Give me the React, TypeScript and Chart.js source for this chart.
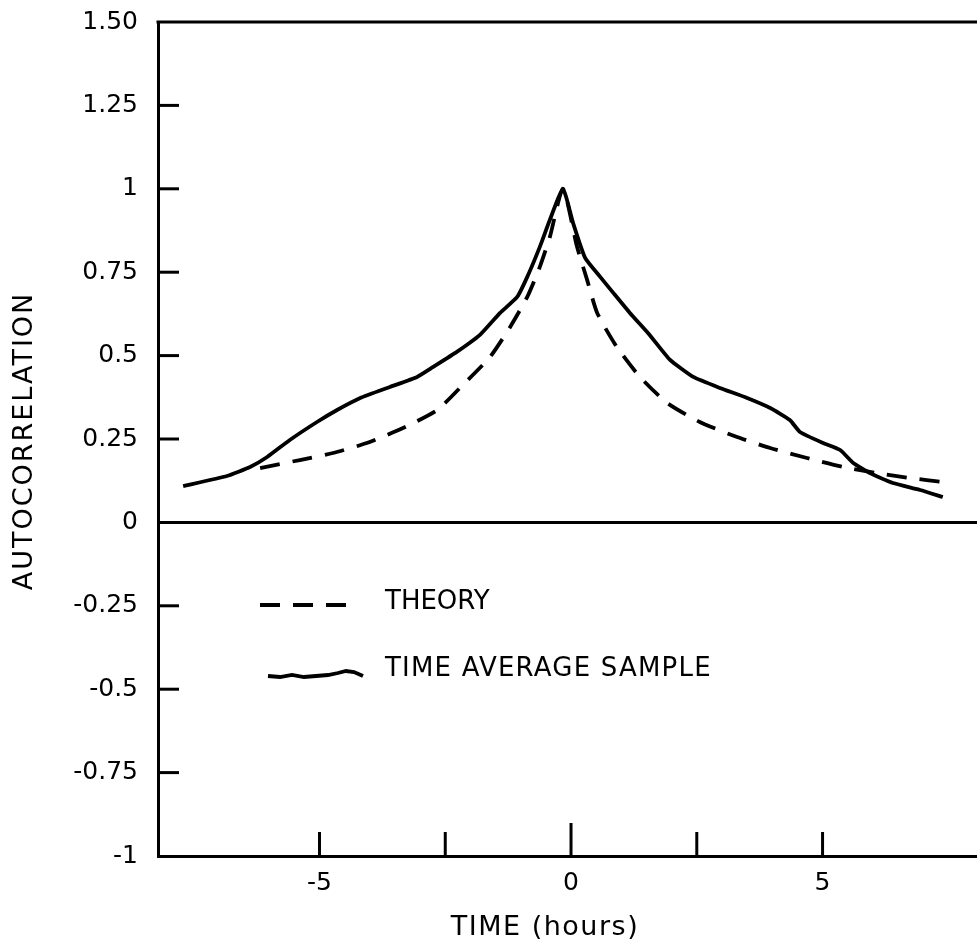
import React, { useEffect, useRef } from "react";
import { Chart, registerables } from "chart.js";

Chart.register(...registerables);

// Time average sample (solid curve)
const sampleTime = [
  -7.71, -6.84, -6.38, -6.04, -5.59, -5.05, -4.65, -4.19, -3.6, -3.06, -2.74, -2.27,
  -1.81, -1.41, -1.07, -0.87, -0.62, -0.42, -0.16, 0.04, 0.28, 0.58, 0.84, 1.17, 1.53,
  1.97, 2.43, 2.96, 3.5, 3.96, 4.35, 4.55, 5.01, 5.35, 5.61, 5.94, 6.4, 6.94, 7.39,
];
const sampleValue = [
  0.109, 0.139, 0.166, 0.196, 0.247, 0.301, 0.337, 0.373, 0.406, 0.436, 0.466, 0.511,
  0.562, 0.628, 0.676, 0.736, 0.826, 0.907, 1.0, 0.898, 0.793, 0.736, 0.688, 0.628, 0.568,
  0.487, 0.436, 0.403, 0.373, 0.343, 0.307, 0.271, 0.238, 0.217, 0.178, 0.148, 0.118, 0.097, 0.076,
];

// Theory (dashed curve)
const theoryTime = [
  -6.18, -5.39, -4.73, -4.06, -3.34, -2.66, -2.15, -1.61, -1.21, -0.87, -0.62, -0.42, -0.16,
  0.12, 0.32, 0.52, 0.91, 1.37, 1.91, 2.56, 3.3, 3.96, 4.69, 5.41, 6.08, 6.74, 7.4,
];
const theoryValue = [
  0.163, 0.187, 0.208, 0.238, 0.283, 0.337, 0.412, 0.496, 0.586, 0.676, 0.766, 0.856, 1.0,
  0.826, 0.727, 0.628, 0.526, 0.436, 0.358, 0.301, 0.256, 0.223, 0.193, 0.166, 0.148, 0.133, 0.121,
];

const yTickValues = [-1, -0.75, -0.5, -0.25, 0, 0.25, 0.5, 0.75, 1, 1.25, 1.5];
const yTickLabels = ["-1", "-0.75", "-0.5", "-0.25", "0", "0.25", "0.5", "0.75", "1", "1.25", "1.50"];
const xTickValues = [-5, -2.5, 0, 2.5, 5];
const xTickLabels = ["-5", "", "0", "", "5"];

const xMin = -8.21;
const xMax = 8.07;
const yMin = -1;
const yMax = 1.5;

const seriesNames = ["THEORY", "TIME AVERAGE SAMPLE"];
const yTitle = "AUTOCORRELATION";
const xTitle = "TIME (hours)";

const FONT = "'DejaVu Sans', sans-serif";

const decorPlugin = {
  id: "decor",
  afterDraw(chart: any) {
    const ctx = chart.ctx as CanvasRenderingContext2D;
    const { left, right, top, bottom } = chart.chartArea;
    const xs = chart.scales.x;
    const ys = chart.scales.y;
    ctx.save();
    ctx.strokeStyle = "#000";
    ctx.fillStyle = "#000";
    ctx.lineCap = "butt";

    // top frame line
    ctx.lineWidth = 3;
    ctx.beginPath();
    ctx.moveTo(left - 1.5, top);
    ctx.lineTo(right, top);
    ctx.stroke();

    // zero line
    const y0 = ys.getPixelForValue(0);
    ctx.beginPath();
    ctx.moveTo(left, y0);
    ctx.lineTo(right, y0);
    ctx.stroke();

    // inner y tick marks
    yTickValues.forEach((v) => {
      if (v === yMin || v === yMax || v === 0) return;
      const py = ys.getPixelForValue(v);
      ctx.beginPath();
      ctx.moveTo(left, py);
      ctx.lineTo(left + 21, py);
      ctx.stroke();
    });

    // inner x tick marks
    xTickValues.forEach((v) => {
      const px = xs.getPixelForValue(v);
      const len = v === 0 ? 33 : 24;
      ctx.beginPath();
      ctx.moveTo(px, bottom);
      ctx.lineTo(px, bottom - len);
      ctx.stroke();
    });

    // x axis title
    ctx.save();
    ctx.font = `27px ${FONT}`;
    ctx.textAlign = "center";
    ctx.textBaseline = "middle";
    try {
      (ctx as any).letterSpacing = "1.5px";
    } catch (e) {}
    ctx.fillText(xTitle, 545, 928);
    ctx.restore();

    // y axis title
    ctx.save();
    ctx.translate(25, 441);
    ctx.rotate(-Math.PI / 2);
    ctx.font = `27px ${FONT}`;
    ctx.textAlign = "center";
    ctx.textBaseline = "middle";
    try {
      (ctx as any).letterSpacing = "2px";
    } catch (e) {}
    ctx.fillText(yTitle, 0, 0);
    ctx.restore();

    // legend
    ctx.lineWidth = 3.8;
    ctx.setLineDash([20, 13]);
    ctx.beginPath();
    ctx.moveTo(260, 605);
    ctx.lineTo(348, 605);
    ctx.stroke();
    ctx.setLineDash([]);
    const wave = [
      [268, 676], [280, 677], [292, 675], [304, 677], [316, 676],
      [328, 675], [338, 673], [346, 671], [354, 672], [363, 676],
    ];
    ctx.beginPath();
    wave.forEach(([wx, wy], i) => (i ? ctx.lineTo(wx, wy) : ctx.moveTo(wx, wy)));
    ctx.stroke();

    ctx.font = `26px ${FONT}`;
    ctx.textAlign = "left";
    ctx.textBaseline = "middle";
    ctx.fillText(seriesNames[0], 385, 602);
    try {
      (ctx as any).letterSpacing = "1.2px";
    } catch (e) {}
    ctx.fillText(seriesNames[1], 385, 669);
    ctx.restore();
  },
};

export default function App() {
  const canvasRef = useRef<HTMLCanvasElement | null>(null);

  useEffect(() => {
    if (!canvasRef.current) return;
    const chart = new Chart(canvasRef.current, {
      type: "line",
      data: {
        datasets: [
          {
            label: seriesNames[0],
            data: theoryTime.map((t, i) => ({ x: t, y: theoryValue[i] })),
            borderColor: "#000",
            borderWidth: 3.8,
            borderDash: [20, 13],
            pointRadius: 0,
            tension: 0.2,
            fill: false,
          },
          {
            label: seriesNames[1],
            data: sampleTime.map((t, i) => ({ x: t, y: sampleValue[i] })),
            borderColor: "#000",
            borderWidth: 3.8,
            pointRadius: 0,
            tension: 0.15,
            fill: false,
          },
        ],
      },
      options: {
        animation: false,
        responsive: true,
        maintainAspectRatio: false,
        layout: { padding: { top: 22, right: 0, bottom: 0, left: 0 } },
        plugins: {
          legend: { display: false },
          tooltip: { enabled: false },
          title: { display: false },
        },
        scales: {
          x: {
            type: "linear",
            min: xMin,
            max: xMax,
            grid: { display: false },
            border: { display: true, color: "#000", width: 3 },
            afterBuildTicks: (scale: any) => {
              scale.ticks = xTickValues.map((v) => ({ value: v }));
            },
            afterFit: (scale: any) => {
              scale.height = 92;
              scale.paddingLeft = 0;
              scale.paddingRight = 0;
            },
            ticks: {
              color: "#000",
              padding: 4,
              maxRotation: 0,
              autoSkip: false,
              font: { family: FONT, size: 25 },
              callback: (v: any) => {
                const i = xTickValues.indexOf(Number(v));
                return i >= 0 ? xTickLabels[i] : "";
              },
            },
          },
          y: {
            type: "linear",
            min: yMin,
            max: yMax,
            grid: { display: false },
            border: { display: true, color: "#000", width: 3 },
            afterBuildTicks: (scale: any) => {
              scale.ticks = yTickValues.map((v) => ({ value: v }));
            },
            afterFit: (scale: any) => {
              scale.width = 158;
              scale.paddingTop = 0;
              scale.paddingBottom = 0;
            },
            ticks: {
              color: "#000",
              padding: 12,
              autoSkip: false,
              font: { family: FONT, size: 25 },
              callback: (v: any) => {
                const i = yTickValues.indexOf(Number(v));
                return i >= 0 ? yTickLabels[i] : "";
              },
            },
          },
        },
      },
      plugins: [decorPlugin],
    });
    return () => chart.destroy();
  }, []);

  return (
    <div
      style={{
        position: "absolute",
        left: 0,
        top: 0,
        width: 977,
        height: 948,
        background: "#fff",
      }}
    >
      <canvas ref={canvasRef} />
    </div>
  );
}
